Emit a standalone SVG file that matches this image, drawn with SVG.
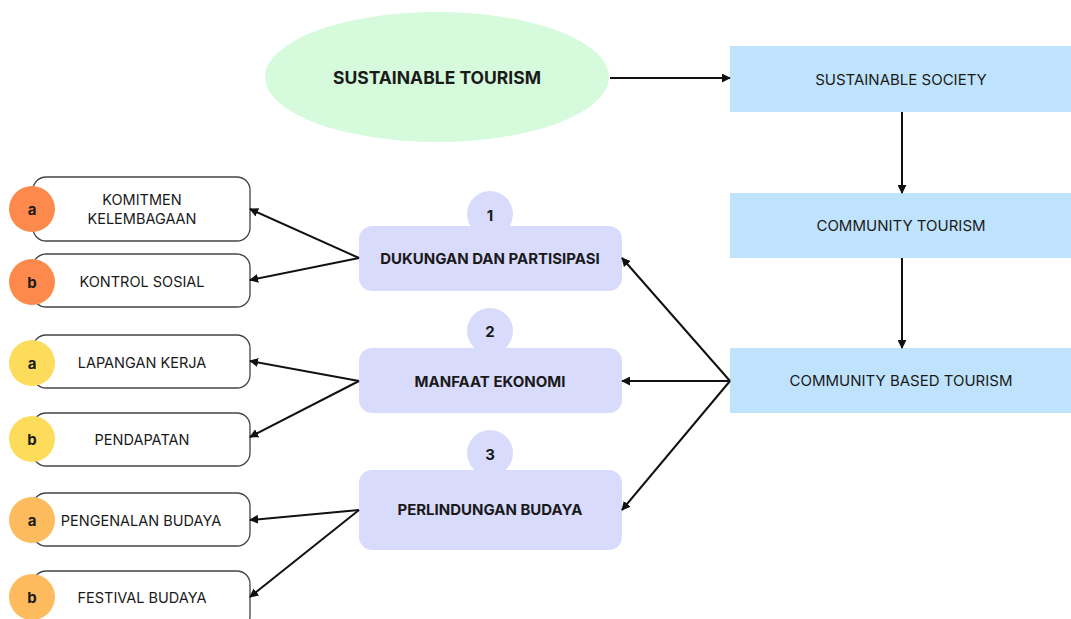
<svg xmlns="http://www.w3.org/2000/svg" width="1071" height="619" viewBox="0 0 1071 619">
<style>
text{font-family:Inter,"Open Sans","Liberation Sans",sans-serif;fill:#1a1a1a;text-anchor:middle;dominant-baseline:central}
.b{font-weight:700}
.blue{fill:#bfe3fc}
.purp{fill:#d9dbfd}
.box{fill:#fff;stroke:#444;stroke-width:1.3}
.conn line{stroke:#111;stroke-width:2;marker-end:url(#ah)}
.lt{font-size:14.5px}
.rt{font-size:15px}
.pt{font-size:15px}
.ct{font-size:15px}
</style>
<defs>
<marker id="ah" viewBox="0 0 10 10" refX="9" refY="5" markerWidth="4.5" markerHeight="4.5" orient="auto" markerUnits="strokeWidth">
<path d="M0,0 L10,5 L0,10 z" fill="#111"/>
</marker>
</defs>
<rect width="1071" height="619" fill="#fff"/>

<g id="sustainable-tourism">
<ellipse cx="437" cy="77" rx="172" ry="65" fill="#d6fbdc"/>
<text x="437" y="77" class="b" font-size="17.5">SUSTAINABLE TOURISM</text>
</g>
<g id="sustainable-society">
<rect x="730" y="46" width="341" height="66" class="blue"/>
<text x="901" y="79" class="rt">SUSTAINABLE SOCIETY</text>
</g>
<g id="community-tourism">
<rect x="730" y="193" width="341" height="65" class="blue"/>
<text x="901" y="225" class="rt">COMMUNITY TOURISM</text>
</g>
<g id="community-based-tourism">
<rect x="730" y="348" width="341" height="65" class="blue"/>
<text x="901" y="380" class="rt">COMMUNITY BASED TOURISM</text>
</g>

<g id="dukungan">
<circle cx="490" cy="214" r="23" class="purp"/>
<rect x="359" y="226" width="263" height="65" rx="13" class="purp"/>
<text x="490" y="215" class="b pt">1</text>
<text x="490" y="258" class="b pt">DUKUNGAN DAN PARTISIPASI</text>
</g>
<g id="manfaat">
<circle cx="490" cy="331" r="23" class="purp"/>
<rect x="359" y="348" width="263" height="65" rx="13" class="purp"/>
<text x="490" y="331" class="b pt">2</text>
<text x="490" y="381" class="b pt">MANFAAT EKONOMI</text>
</g>
<g id="perlindungan">
<circle cx="490" cy="453" r="23" class="purp"/>
<rect x="359" y="470" width="263" height="80" rx="13" class="purp"/>
<text x="490" y="454" class="b pt">3</text>
<text x="490" y="509" class="b pt">PERLINDUNGAN BUDAYA</text>
</g>

<g id="komitmen">
<rect x="33" y="177" width="217" height="64" rx="13" class="box"/>
<circle cx="32" cy="209" r="23" fill="#fd8a4c"/>
<text x="32" y="209" class="b ct">a</text>
<text x="142" y="199" class="lt">KOMITMEN</text>
<text x="142" y="218" class="lt">KELEMBAGAAN</text>
</g>
<g id="kontrol">
<rect x="33" y="254" width="217" height="53" rx="13" class="box"/>
<circle cx="32" cy="282" r="23" fill="#fd8a4c"/>
<text x="32" y="282" class="b ct">b</text>
<text x="142" y="281" class="lt">KONTROL SOSIAL</text>
</g>
<g id="lapangan">
<rect x="33" y="335" width="217" height="53" rx="13" class="box"/>
<circle cx="32" cy="363" r="23" fill="#fddc5b"/>
<text x="32" y="363" class="b ct">a</text>
<text x="142" y="362" class="lt">LAPANGAN KERJA</text>
</g>
<g id="pendapatan">
<rect x="33" y="413" width="217" height="53" rx="13" class="box"/>
<circle cx="32" cy="439" r="23" fill="#fddc5b"/>
<text x="32" y="439" class="b ct">b</text>
<text x="142" y="439" class="lt">PENDAPATAN</text>
</g>
<g id="pengenalan">
<rect x="33" y="493" width="217" height="53" rx="13" class="box"/>
<circle cx="32" cy="520" r="23" fill="#fdbb5d"/>
<text x="32" y="520" class="b ct">a</text>
<text x="141" y="520" class="lt">PENGENALAN BUDAYA</text>
</g>
<g id="festival">
<rect x="33" y="571" width="217" height="58" rx="13" class="box"/>
<circle cx="32" cy="597" r="23" fill="#fdbb5d"/>
<text x="32" y="597" class="b ct">b</text>
<text x="142" y="597" class="lt">FESTIVAL BUDAYA</text>
</g>

<g id="connectors" class="conn">
<line x1="610" y1="78" x2="730" y2="78"/>
<line x1="902" y1="112" x2="902" y2="193"/>
<line x1="902" y1="258" x2="902" y2="348"/>
<line x1="730" y1="381" x2="622" y2="258"/>
<line x1="730" y1="381" x2="622" y2="381"/>
<line x1="730" y1="381" x2="622" y2="510"/>
<line x1="359" y1="258" x2="250" y2="209"/>
<line x1="359" y1="258" x2="250" y2="280"/>
<line x1="359" y1="381" x2="250" y2="361"/>
<line x1="359" y1="381" x2="250" y2="437"/>
<line x1="359" y1="510" x2="250" y2="520"/>
<line x1="359" y1="510" x2="250" y2="597"/>
</g>
</svg>
